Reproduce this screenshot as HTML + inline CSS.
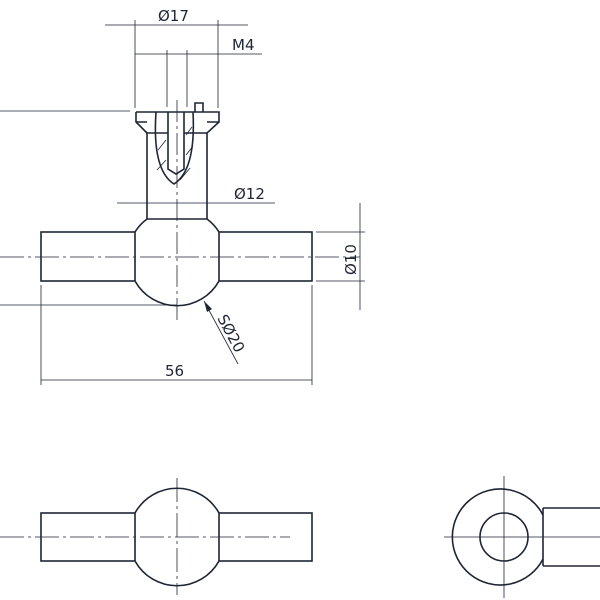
<!DOCTYPE html>
<html><head><style>body{margin:0;background:#fff}svg{display:block}text{font-family:"DejaVu Sans","Liberation Sans",sans-serif;fill:#1e2535}</style></head><body>
<svg width="600" height="600" viewBox="0 0 600 600" xmlns="http://www.w3.org/2000/svg">
<g fill="none" stroke="#1e2535" stroke-width="1.6">
<path d="M136,112 H219 V122 L207,133 V219 M136,112 V122 L147,133 V219 M136,122 H147 M207,122 H219"/>
<path d="M147,133 H168 M184,133 H207"/>
<path d="M195,112 V103 H203 V112"/>
<path d="M168,112 V169 L176,174 L184,169 V112"/>
<path d="M156,112 Q152,170 174,184 Q196,170 193,112"/>
<path d="M147,219 H207 M147,219 A48,48 0 0 0 135,232 M135,281 A48,48 0 0 0 219,281 M219,232 A48,48 0 0 0 207,219"/>
<rect x="41" y="232" width="94" height="49"/>
<rect x="219" y="232" width="93" height="49"/>
<path d="M135,513 A48,48 0 0 1 219,513 M135,561 A48,48 0 0 0 219,561"/>
<rect x="41" y="513" width="94" height="48"/>
<rect x="219" y="513" width="93" height="48"/>
<path d="M543,515 A48,48 0 1 0 543,559"/>
<circle cx="504" cy="537" r="24"/>
<path d="M543,508 H600 M543,566 H600 M543,508 V566"/>
</g>
<g fill="none" stroke="#1e2535" stroke-width="0.8">
<path d="M158,150 L166,140 M157,170 L166,160 M186,135 L192,127 M186,155 L193,146 M180,180 L190,168"/>
<path d="M177,100 V320" stroke-dasharray="22,4,3,4"/>
<path d="M0,257 H360" stroke-dasharray="24,4,3,4"/>
<path d="M0,537 H290" stroke-dasharray="24,4,3,4"/>
<path d="M177,478 V595" stroke-dasharray="24,4,3,4"/>
<path d="M444,537 H600 M504,476 V598 M492,537 H516"/>
<path d="M105,25 H248 M135,20 V108 M218,20 V108"/>
<path d="M135,54 H262 M167,50 V107 M187,50 V107"/>
<path d="M0,111 H130"/>
<path d="M117,203 H275"/>
<path d="M360,203 V310 M316,232 H365 M316,281 H365"/>
<path d="M41,380 H312 M41,285 V385 M312,285 V385"/>
<path d="M0,305 H177"/>
<path d="M204,301 L238,364"/>
</g>
<path d="M204,301 L212,309 L207,312 Z" fill="#1e2535"/>
<text x="158" y="21" font-size="15">Ø17</text>
<text x="232" y="50" font-size="15">M4</text>
<text x="234" y="199" font-size="15">Ø12</text>
<text x="165" y="376" font-size="15">56</text>
<text transform="translate(356,275) rotate(-90)" font-size="15">Ø10</text>
<text transform="translate(217,318) rotate(62)" font-size="15">SØ20</text>
</svg>
</body></html>
